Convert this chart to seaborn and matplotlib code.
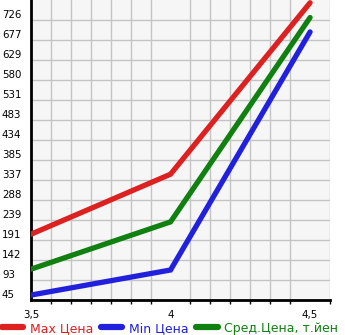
import matplotlib
matplotlib.use("Agg")
import matplotlib.pyplot as plt
from matplotlib.ticker import FixedLocator, MultipleLocator
import seaborn as sns
import pandas as pd

# engine volume (litres) and prices (thousand yen)
volumes = [3.5, 4.0, 4.5]
max_price = [205, 351, 768]
min_price = [57, 118, 697]
avg_price = [120, 235, 732]

series_names = ["Max Цена", "Min Цена", "Сред.Цена, т.йен"]
series_colors = ["#dd2020", "#2020dd", "#108010"]

y_ticks = [45, 93, 142, 191, 239, 288, 337, 385, 434, 483, 531, 580, 629, 677, 726]
x_ticks = [3.5, 4.0, 4.5]
x_tick_labels = ["3,5", "4", "4,5"]

df = pd.DataFrame({
    "volume": volumes * 3,
    "price": max_price + min_price + avg_price,
    "series": [series_names[0]] * 3 + [series_names[1]] * 3 + [series_names[2]] * 3,
})

sns.set_theme(style="white")
plt.rcParams["font.family"] = ["DejaVu Sans"]

fig = plt.figure(figsize=(3.45, 3.35), dpi=100)
ax = fig.add_axes([31 / 345, 35 / 335, 299 / 345, 300 / 335])
ax.set_facecolor("#f6f6f6")

sns.lineplot(
    data=df, x="volume", y="price", hue="series",
    hue_order=series_names, palette=series_colors,
    linewidth=3.8, ax=ax, legend=False, zorder=3,
)
for line in ax.get_lines():
    line.set_solid_capstyle("round")
    line.set_solid_joinstyle("miter")

step_y = (y_ticks[-1] - y_ticks[0]) / 14
ax.set_ylim(y_ticks[0], y_ticks[-1] + step_y)
ax.set_xlim(3.5, 3.5 + 15 / 14)

ax.yaxis.set_major_locator(FixedLocator(y_ticks))
ax.set_yticklabels([str(v) for v in y_ticks])
ax.xaxis.set_major_locator(FixedLocator(x_ticks))
ax.set_xticklabels(x_tick_labels)
ax.xaxis.set_minor_locator(MultipleLocator(1 / 14))

ax.grid(True, which="major", axis="y", color="#c4c4c4", linewidth=1.0, zorder=1)
ax.grid(True, which="minor", axis="x", color="#c4c4c4", linewidth=1.0, zorder=1)
ax.set_axisbelow(True)

for side in ("top", "right"):
    ax.spines[side].set_visible(False)
for side in ("left", "bottom"):
    ax.spines[side].set_color("black")
    ax.spines[side].set_linewidth(2.0)

ax.tick_params(axis="y", which="major", direction="out", length=4, width=1,
               color="black", labelsize=7.4, pad=2, labelcolor="black")
ax.tick_params(axis="x", which="major", direction="out", length=4, width=1,
               color="black", labelsize=7.4, pad=3, labelcolor="black")
ax.tick_params(axis="x", which="minor", direction="out", length=3, width=1,
               color="black", bottom=True)

for lab in ax.get_yticklabels():
    lab.set_horizontalalignment("left")
    lab.set_verticalalignment("bottom")
    lab.set_x(-29 / 299)
    lab.set_transform(ax.get_yaxis_transform())

ax.set_xlabel("")
ax.set_ylabel("")

handles = [plt.Line2D([], [], color=c, linewidth=4.5, solid_capstyle="round")
           for c in series_colors]
leg = fig.legend(handles, series_names, loc="lower left", bbox_to_anchor=(-0.012, -0.018),
                 ncol=3, frameon=False, fontsize=9, handlelength=1.7,
                 handletextpad=0.55, columnspacing=0.6, borderaxespad=0.1)
for txt, c in zip(leg.get_texts(), series_colors):
    txt.set_color(c)

fig.savefig("out.png", dpi=100)
